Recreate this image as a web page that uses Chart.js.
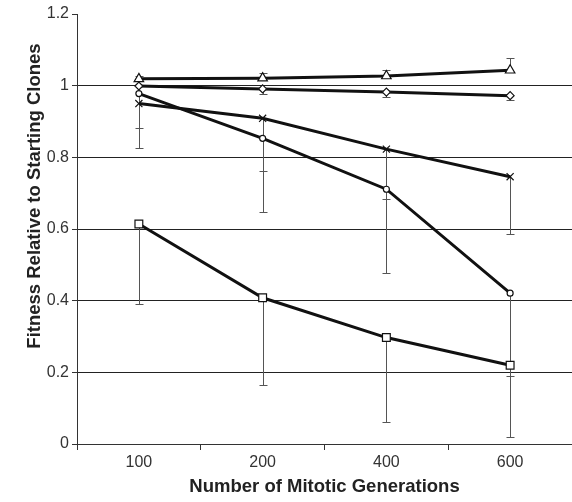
<!DOCTYPE html>
<html>
<head>
<meta charset="utf-8">
<script src="https://cdn.jsdelivr.net/npm/chart.js@4/dist/chart.umd.min.js"></script>
<style>
  html, body { margin: 0; padding: 0; background: #fff; }
  #wrap { width: 572px; height: 502px; position: relative; }
</style>
</head>
<body>
<div id="wrap"><canvas id="myChart"></canvas></div>
<script>
// categories (x axis)
const generations = ['100', '200', '400', '600'];

// series values
const triangleVals = [1.019, 1.021, 1.027, 1.043];
const diamondVals  = [0.999, 0.991, 0.982, 0.972];
const crossVals    = [0.950, 0.909, 0.823, 0.746];
const circleVals   = [0.978, 0.853, 0.711, 0.421];
const squareVals   = [0.614, 0.408, 0.297, 0.220];

// one-sided error bars (triangle goes up, the rest go down)
const triangleErr = [0.009, 0.013, 0.018, 0.033];
const diamondErr  = [0.000, 0.013, 0.013, 0.012];
const crossErr    = [0.067, 0.147, 0.138, 0.161];
const circleErr   = [0.153, 0.205, 0.233, 0.231];
const squareErr   = [0.223, 0.244, 0.236, 0.200];

const yTicks = [0, 0.2, 0.4, 0.6, 0.8, 1, 1.2];

const FONT = "'Liberation Sans', Arial, sans-serif";

function series(label, values, err, dir, style, radius) {
    return {
        label: label,
        data: values,
        errs: err,
        errDir: dir,
        borderColor: '#111',
        borderWidth: 3,
        backgroundColor: '#fff',
        pointStyle: style,
        pointRadius: radius,
        pointBorderWidth: 1.2,
        pointBorderColor: '#111',
        pointBackgroundColor: '#fff',
        tension: 0
    };
}

// error bars drawn from the scales, under the lines
const errorBars = {
    id: 'errorBars',
    beforeDatasetsDraw(chart) {
        const ctx = chart.ctx;
        const x = chart.scales.x;
        const y = chart.scales.y;
        ctx.save();
        ctx.strokeStyle = '#555';
        ctx.lineWidth = 1;
        chart.data.datasets.forEach(ds => {
            ds.data.forEach((v, i) => {
                const e = ds.errs[i];
                if (!e) return;
                const end = ds.errDir === 'up' ? v + e : v - e;
                const px = Math.round(x.getPixelForValue(i)) + 0.5;
                const y0 = y.getPixelForValue(v);
                const y1 = Math.round(y.getPixelForValue(end)) + 0.5;
                ctx.beginPath();
                ctx.moveTo(px, y0);
                ctx.lineTo(px, y1);
                ctx.moveTo(px - 4, y1);
                ctx.lineTo(px + 4, y1);
                ctx.stroke();
            });
        });
        ctx.restore();
    }
};

// y title sits a bit above the plot centre in the original
const yTitle = {
    id: 'yTitle',
    afterDraw(chart) {
        const ctx = chart.ctx;
        ctx.save();
        ctx.translate(35, 196);
        ctx.rotate(-Math.PI / 2);
        ctx.font = 'bold 18.5px ' + FONT;
        ctx.fillStyle = '#222';
        ctx.textAlign = 'center';
        ctx.textBaseline = 'middle';
        ctx.fillText('Fitness Relative to Starting Clones', 0, 0);
        ctx.restore();
    }
};

const config = {
    type: 'line',
    data: {
        labels: generations,
        datasets: [
            series('triangle', triangleVals, triangleErr, 'up', 'triangle', 5.5),
            series('diamond', diamondVals, diamondErr, 'down', 'rectRot', 4),
            series('cross', crossVals, crossErr, 'down', 'crossRot', 5),
            series('circle', circleVals, circleErr, 'down', 'circle', 3),
            series('square', squareVals, squareErr, 'down', 'rect', 5.5)
        ]
    },
    options: {
        responsive: true,
        maintainAspectRatio: false,
        animation: false,
        layout: { autoPadding: false, padding: { top: 14, right: 0, left: 0, bottom: 0 } },
        plugins: {
            legend: { display: false },
            tooltip: { enabled: false }
        },
        scales: {
            x: {
                offset: true,
                grid: {
                    offset: true,
                    drawOnChartArea: false,
                    drawTicks: true,
                    tickLength: 6,
                    tickColor: '#333'
                },
                border: { display: true, color: '#333', width: 1 },
                ticks: {
                    color: '#333',
                    font: { family: FONT, size: 16 },
                    padding: 3
                },
                title: {
                    display: true,
                    text: 'Number of Mitotic Generations',
                    color: '#222',
                    font: { family: FONT, size: 18.5, weight: 'bold' },
                    padding: { top: 7 }
                },
                afterFit(scale) {
                    scale.height = 58;
                    scale.paddingLeft = 0;
                    scale.paddingRight = 0;
                }
            },
            y: {
                min: 0,
                max: 1.2,
                afterBuildTicks(scale) {
                    scale.ticks = yTicks.map(v => ({ value: v }));
                },
                grid: {
                    color: ctx => (ctx.tick && ctx.tick.value > 1.1) ? 'rgba(0,0,0,0)' : '#222',
                    tickColor: '#333',
                    tickLength: 5,
                    lineWidth: 1
                },
                border: { display: true, color: '#333', width: 1 },
                ticks: {
                    color: '#333',
                    font: { family: FONT, size: 16 },
                    padding: 3,
                    callback: value => String(value)
                },
                afterFit(scale) { scale.width = 77; }
            }
        }
    },
    plugins: [errorBars, yTitle]
};

const myChart = new Chart(document.getElementById('myChart'), config);
</script>
</body>
</html>
